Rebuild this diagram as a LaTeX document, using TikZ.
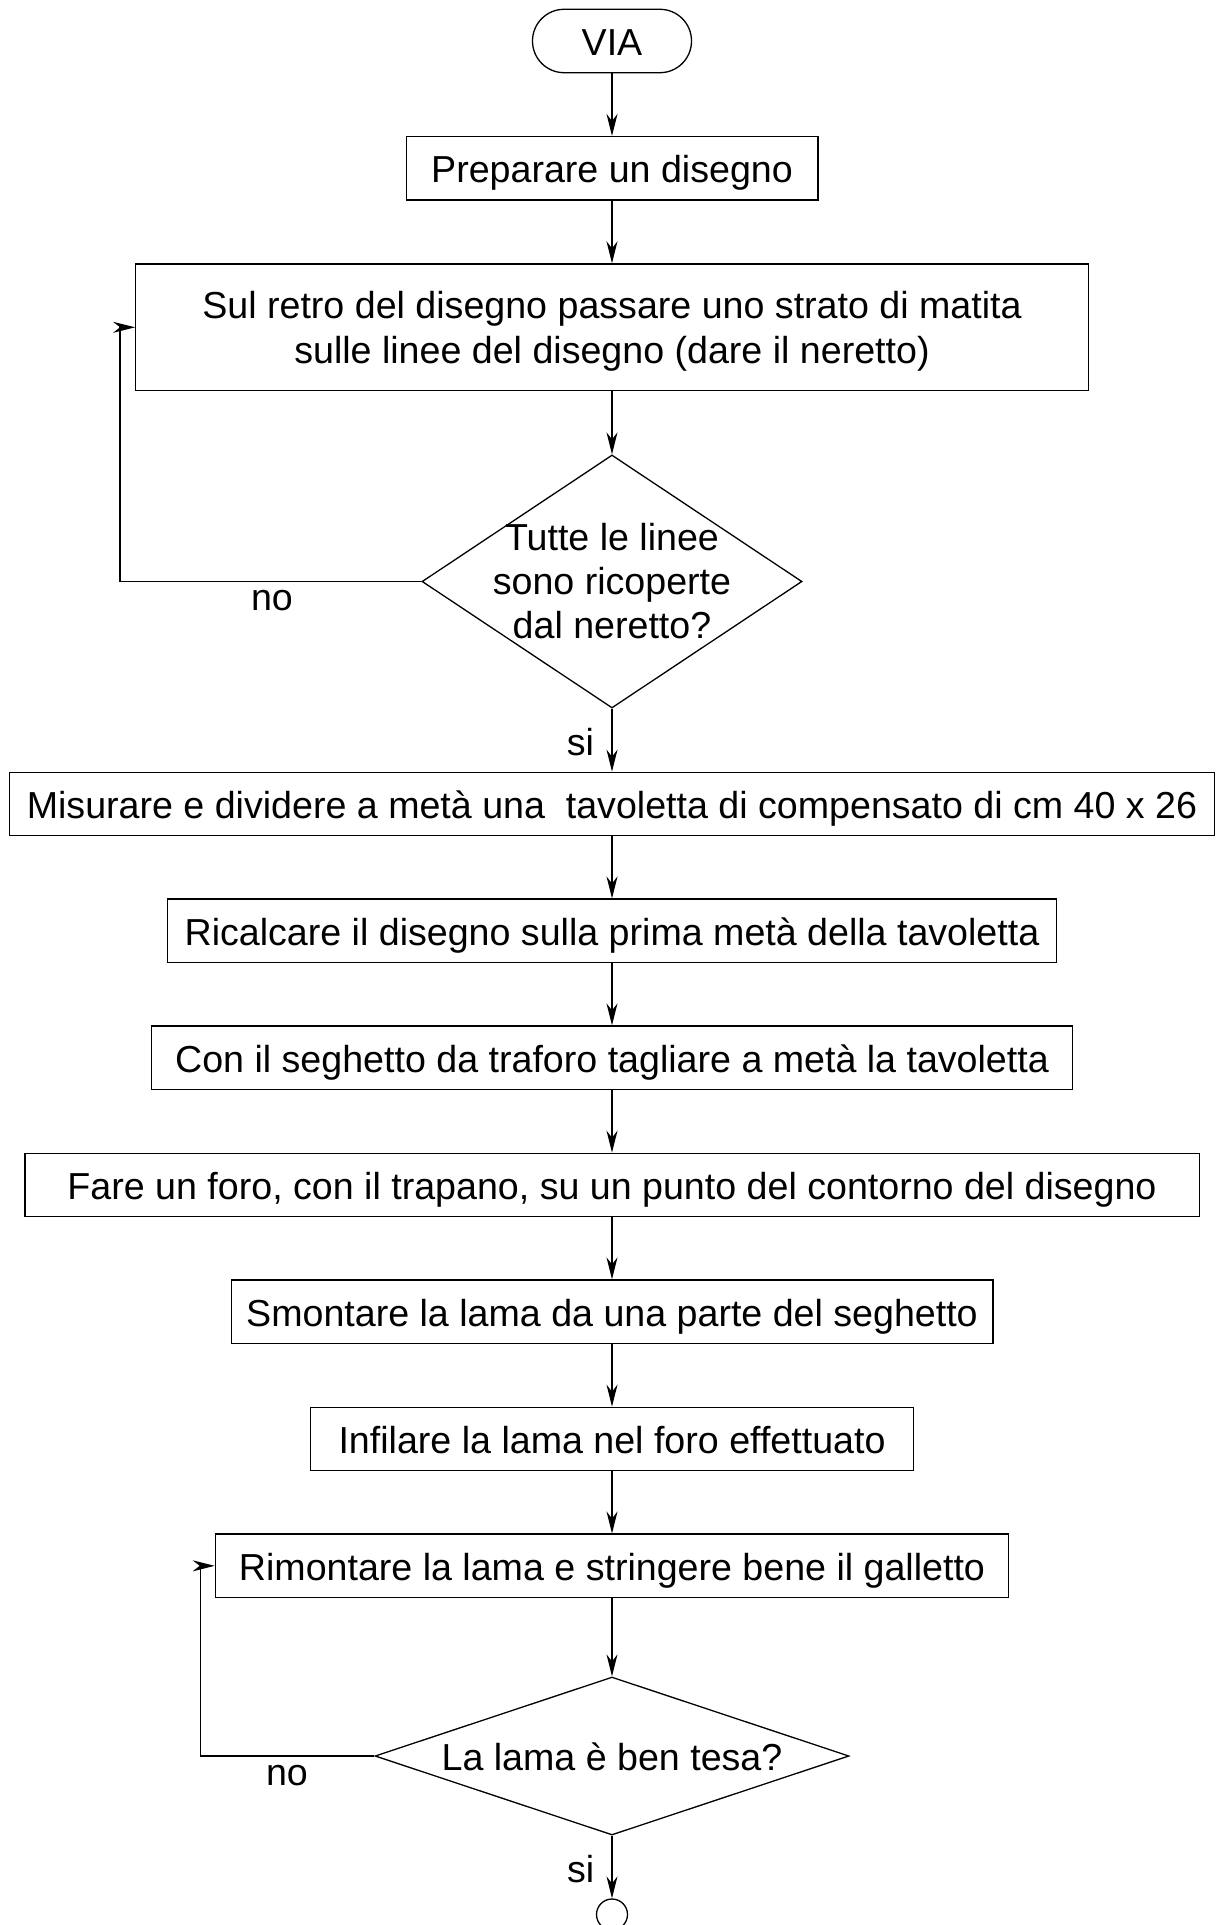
\documentclass[tikz,border=0pt]{standalone}
\usepackage{fontspec}
\setmainfont{Liberation Sans}
\usetikzlibrary{arrows.meta,shapes.geometric}
\begin{document}
\begin{tikzpicture}[x=0.5pt,y=-0.5pt,
  line width=0.65pt,
  every node/.style={font=\fontsize{18.8pt}{22pt}\selectfont, inner sep=0pt},
  boxbase/.style={draw, rectangle, line width=0.65pt},
  onel/.style={text height=16.3pt, text depth=1.9pt},
  box/.style={boxbase, onel, minimum height=31.7pt},
  dia/.style={draw, diamond, line width=0.65pt},
  arr/.style={-{Stealth[length=11pt,width=5.5pt,inset=3.5pt]}}
]
\useasboundingbox (0,0) rectangle (1218,1925);

% nodes
\node[draw, onel, rounded corners=15.8pt, minimum width=79.5pt, minimum height=31.7pt] (via) at (612,41) {VIA};
\node[box, minimum width=205.85pt] (prep) at (612,168.3) {Preparare un disegno};
\node[boxbase, minimum width=476.25pt, minimum height=63.35pt] (sul) at (612,327.3) {};
\node[align=center, yshift=-1.9pt, font=\fontsize{18.8pt}{22.2pt}\selectfont] (sult) at (sul)
  {Sul retro del disegno passare uno strato di matita\\sulle linee del disegno (dare il neretto)};
\node[dia, minimum width=190pt, minimum height=126.5pt] (d1) at (612,581.5) {};
\node[align=center, yshift=0pt] (d1t) at (d1) {Tutte le linee\\sono ricoperte\\dal neretto?};
\node[box, minimum width=602.25pt] (mis) at (612,804) {Misurare e dividere a metà una\ \ tavoletta di compensato di cm 40 x 26};
\node[box, minimum width=444.35pt] (ric) at (612,930.8) {Ricalcare il disegno sulla prima metà della tavoletta};
\node[box, minimum width=460.3pt] (con) at (612,1057.7) {Con il seghetto da traforo tagliare a metà la tavoletta};
\node[box, minimum width=587.15pt] (fare) at (612,1185) {Fare un foro, con il trapano, su un punto del contorno del disegno};
\node[box, minimum width=380.85pt] (smo) at (612,1311.7) {Smontare la lama da una parte del seghetto};
\node[box, minimum width=301.65pt] (inf) at (612,1439) {Infilare la lama nel foro effettuato};
\node[box, minimum width=396.65pt] (rim) at (612,1565.8) {Rimontare la lama e stringere bene il galletto};
\node[dia, minimum width=237pt, minimum height=79pt] (d2) at (612,1756) {};
\node[onel] (d2t) at (d2) {La lama è ben tesa?};
\node[draw, circle, minimum size=15.5pt] (fine) at (612,1914.5) {};

% labels
\node (no1) at (272,601) {no};
\node (si1) at (580.5,742.5) {si};
\node (no2) at (287,1776) {no};
\node (si2) at (580.6,1869) {si};

% helper coordinates for feedback loops
\coordinate (l1) at (120,0);
\coordinate (l2) at (200.5,0);

% connectors
\draw[arr] (via) -- (prep);
\draw[arr] (prep) -- (sul);
\draw[arr] (sul) -- (d1);
\draw[arr] (d1) -- (mis);
\draw[arr] (mis) -- (ric);
\draw[arr] (ric) -- (con);
\draw[arr] (con) -- (fare);
\draw[arr] (fare) -- (smo);
\draw[arr] (smo) -- (inf);
\draw[arr] (inf) -- (rim);
\draw[arr] (rim) -- (d2);
\draw[arr] (d2) -- (fine);
\draw[arr] (d1.west) -| (l1 |- sul.west) -- (sul.west);
\draw[arr] (d2.west) -| (l2 |- rim.west) -- (rim.west);
\end{tikzpicture}
\end{document}
